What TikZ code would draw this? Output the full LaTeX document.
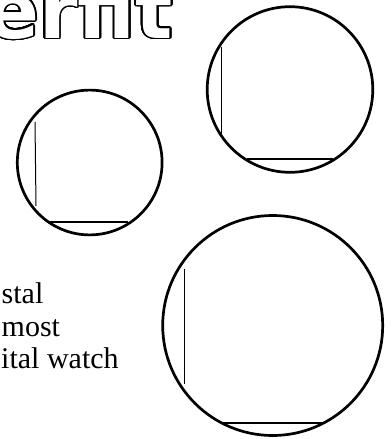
\documentclass[tikz,border=0pt]{standalone}
\usepackage{fontspec}
\setmainfont{Liberation Serif}
\newfontfamily\titlefont{DejaVu Sans}
\usepackage[copies]{contour}
\contourlength{1.7pt}
\contournumber{32}
\begin{document}
\begin{tikzpicture}[x=1pt,y=-1pt,
  rim/.style={line width=2.7pt},
  sideline/.style={line width=1pt},
  baseline/.style={line width=2pt},
  caption/.style={inner sep=0pt,anchor=base west,font=\fontsize{30}{32}\selectfont}]
\useasboundingbox (0,0) rectangle (391,439);
\fill[white] (0,0) rectangle (391,439);
% title (cropped word)
\node[inner sep=0pt,anchor=base east] (title) at (173,38)
  {\titlefont\bfseries\fontsize{78}{78}\selectfont\contour{black}{\textcolor{white}{erfit}}};
% captions
\node[caption] (c1) at (1.5,303) {stal};
\node[caption] (c2) at (1.5,336) {most};
\node[caption] (c3) at (1,368) {ital watch};
% circle 1 (small)
\coordinate (k1) at (89.7,162.5);
\draw[rim] (k1) circle (72.4);
\coordinate (v1a) at (35,122); \coordinate (v1b) at (36,206);
\draw[sideline] (v1a) -- (v1b);
\coordinate (h1a) at (48,222); \coordinate (h1b) at (128,222);
\draw[baseline] (h1a) -- (h1b);
% circle 2 (top right)
\coordinate (k2) at (290,89.5);
\draw[rim] (k2) circle (82.8);
\coordinate (v2a) at (221.7,47); \coordinate (v2b) at (221.7,134);
\draw[sideline] (v2a) -- (v2b);
\coordinate (h2a) at (247,159); \coordinate (h2b) at (333,159);
\draw[baseline] (h2a) -- (h2b);
% circle 3 (large)
\coordinate (k3) at (272.7,325.5);
\draw[rim] (k3) circle (110);
\coordinate (v3a) at (184,269); \coordinate (v3b) at (184,384);
\draw[sideline] (v3a) -- (v3b);
\coordinate (h3a) at (223,423); \coordinate (h3b) at (323,423);
\draw[baseline] (h3a) -- (h3b);
\end{tikzpicture}
\end{document}
